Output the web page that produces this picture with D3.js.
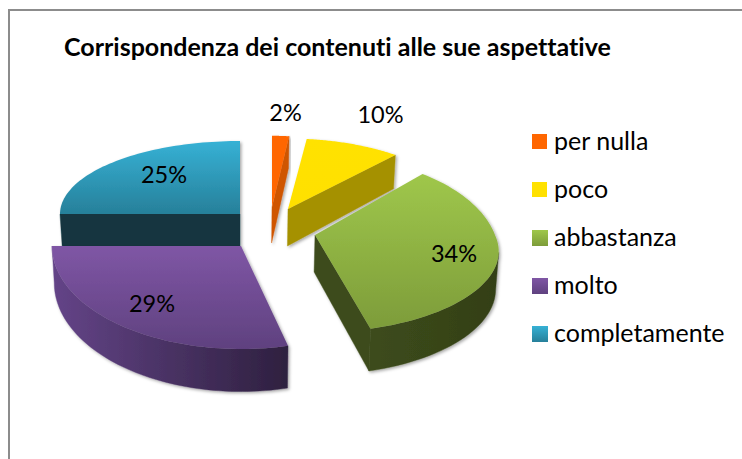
<!DOCTYPE html>
<html><head><meta charset="utf-8">
<script src="https://cdnjs.cloudflare.com/ajax/libs/d3/7.8.5/d3.min.js"></script>
<style>html,body{margin:0;padding:0;background:#fff}svg{display:block}text{font-family:Lato,"Open Sans",sans-serif;fill:#000;font-variant-ligatures:none}</style>
</head><body><svg id="c" width="742" height="459"></svg>
<script>
const chartTitle = "Corrispondenza dei contenuti alle sue aspettative";
const categories = ["per nulla","poco","abbastanza","molto","completamente"];
const values = [2,10,34,29,25];
const tickLabels = ["2%","10%","34%","29%","25%"];
const topColors = [["#ff6600","#ff6600"],["#ffe200","#ffe000"],["#9fc74b","#7d9c3a"],["#7f56a5","#5f417f"],["#36b1d5","#27809a"]];
const wallColors = [["#cf5500","#c85200"],["#a59100","#a08c00"],["#3d4c1b","#333f17"],["#644488","#2e203f"],["#123640","#123640"]];
// layout of each exploded slice: apex, radii, perspective, wall depth
const layout = [
 {ax:272,ay:207,R:170,Qb:89,Qf:80,p:.25,D:36},
 {ax:288,ay:209,R:182,Qb:86,Qf:80,p:.22,D:37},
 {ax:315,ay:235,R:180,Qb:96,Qf:78,p:.2,D:37},
 {ax:241,ay:246,R:189,Qb:90,Qf:103,p:.0,D:37},
 {ax:240,ay:214,R:180,Qb:73,Qf:73,p:.0,D:32}];
const labelPos = [[285.5,121],[380.5,123],[454,262],[152,311.5],[164,183]];
const drawOrder = [4,0,1,2,3];

const svg = d3.select("#c");
const defs = svg.append("defs");
const shadow = defs.append("filter").attr("id","sh").attr("x","-10%").attr("y","-10%").attr("width","120%").attr("height","120%");
shadow.append("feDropShadow").attr("dx",1.5).attr("dy",1.5).attr("stdDeviation",1.5).attr("flood-color","#000").attr("flood-opacity",.35);
function grad(id,c,horizontal){
  const g=defs.append("linearGradient").attr("id",id).attr("x1",0).attr("y1",0).attr("x2",horizontal?1:0).attr("y2",horizontal?0:1);
  g.append("stop").attr("offset",0).attr("stop-color",c[0]);
  g.append("stop").attr("offset",1).attr("stop-color",c[1]);
}
topColors.forEach((c,i)=>{grad("t"+i,c,false);grad("w"+i,wallColors[i],true);});

svg.append("rect").attr("x",9).attr("y",10).attr("width",800).attr("height",600).attr("fill","#fff").attr("stroke","#8c8c8c").attr("stroke-width",2);
svg.append("text").attr("x",64).attr("y",56).attr("font-size",25).attr("font-weight",700).text(chartTitle);

const pie = d3.pie().sort(null).value(d=>d)(values);
const line = d3.line();
const vanishX = 240, conv = .988;
drawOrder.forEach(i=>{
  const a=pie[i], L=layout[i];
  const proj=t=>{
    const s=Math.sin(t),c=Math.cos(t),w=1+L.p*c;
    return [L.ax+L.R*s/w, L.ay-(c>0?L.Qb:L.Qf)*c/w, c];
  };
  const arc=d3.range(0,61).map(k=>proj(a.startAngle+(a.endAngle-a.startAngle)*k/60));
  const apex=[L.ax,L.ay,0];
  const down=q=>[vanishX+(q[0]-vanishX)*conv, q[1]+L.D/(1+.13*q[2])];
  const g=svg.append("g").attr("filter","url(#sh)");
  const wall=(pts,fill)=>{
    const poly=pts.map(q=>[q[0],q[1]]).concat(pts.map(down).reverse());
    g.append("path").attr("d",line(poly)+"Z").attr("fill",fill).attr("stroke",fill).attr("stroke-width",.4);
  };
  // walls visible only where the outline runs leftwards on screen
  const first=[apex,arc[0]], last=[arc[60],apex];
  if(first[1][0]<first[0][0]-.5) wall(first,"url(#w"+i+")");
  if(last[1][0]<last[0][0]-.5) wall(last,wallColors[i][0]);
  let run=[];
  for(let k=0;k<60;k++){
    if(arc[k+1][0]<arc[k][0]){ if(!run.length) run.push(arc[k]); run.push(arc[k+1]); }
  }
  if(run.length) wall(run.slice().reverse(),"url(#w"+i+")");
  const outline=[apex].concat(arc).map(q=>[q[0],q[1]]);
  g.append("path").attr("d",line(outline)+"Z").attr("fill","url(#t"+i+")");
});
tickLabels.forEach((t,i)=>svg.append("text").attr("x",labelPos[i][0]).attr("y",labelPos[i][1]).attr("text-anchor","middle").attr("font-size",23.5).text(t));

const ly=d3.scalePoint().domain(categories).range([142,334]);
categories.forEach((c,i)=>{
  svg.append("rect").attr("x",532).attr("y",ly(c)-8).attr("width",i>1?16:15).attr("height",i>1?16:15).attr("fill","url(#t"+i+")");
  svg.append("text").attr("x",554).attr("y",ly(c)+8).attr("font-size",25).text(c);
});
</script></body></html>
